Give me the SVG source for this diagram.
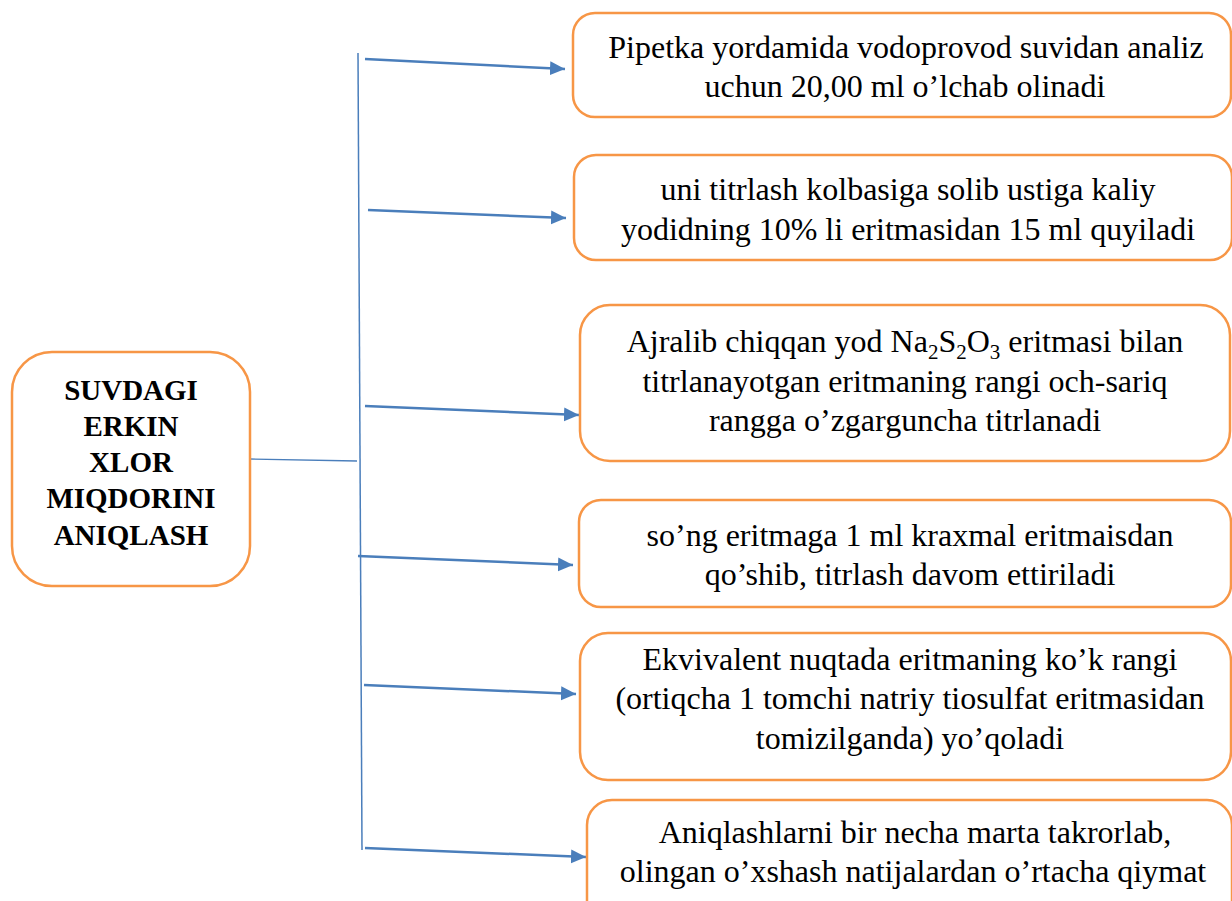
<svg xmlns="http://www.w3.org/2000/svg" width="1232" height="901" viewBox="0 0 1232 901">
<style>
.box{fill:#fff;stroke:#F79646;stroke-width:2.5}
.t{font-family:"Liberation Serif","Times New Roman",serif;font-size:32px;fill:#000;text-anchor:middle}
.b{font-family:"Liberation Serif","Times New Roman",serif;font-size:29px;font-weight:bold;fill:#000;text-anchor:middle}
.ln{stroke:#4A7EBB;fill:none}
.ar{stroke:#4A7EBB;stroke-width:2.5;fill:none;marker-end:url(#ah)}
.sub{font-size:21px}
</style>
<defs>
<marker id="ah" markerUnits="userSpaceOnUse" markerWidth="16" markerHeight="16" refX="15" refY="7" orient="auto">
<path d="M0,0 L15,7 L0,14 Z" fill="#4A7EBB"/>
</marker>
</defs>
<rect width="1232" height="901" fill="#fff"/>
<g id="connectors">
<line class="ln" x1="358" y1="53" x2="362" y2="850" stroke-width="1.5"/>
<line class="ln" x1="250" y1="459" x2="357" y2="461" stroke-width="1.3"/>
<line class="ar" x1="365" y1="59" x2="565" y2="69"/>
<line class="ar" x1="368" y1="210" x2="566" y2="218"/>
<line class="ar" x1="365" y1="406" x2="579" y2="415"/>
<line class="ar" x1="358" y1="556" x2="573" y2="565"/>
<line class="ar" x1="364" y1="685" x2="576" y2="694"/>
<line class="ar" x1="365" y1="848" x2="586" y2="857"/>
</g>
<g id="main">
<rect class="box" x="12" y="352" width="238" height="234" rx="40"/>
<text class="b"><tspan x="131" y="400">SUVDAGI</tspan><tspan x="131" y="436">ERKIN</tspan><tspan x="131" y="472">XLOR</tspan><tspan x="131" y="508">MIQDORINI</tspan><tspan x="131" y="545">ANIQLASH</tspan></text>
</g>
<g id="step1">
<rect class="box" x="573" y="13" width="658" height="104" rx="22"/>
<text class="t"><tspan x="906" y="58">Pipetka yordamida vodoprovod suvidan analiz</tspan><tspan x="905" y="97">uchun 20,00 ml o’lchab olinadi</tspan></text>
</g>
<g id="step2">
<rect class="box" x="574" y="155" width="658" height="105" rx="22"/>
<text class="t"><tspan x="908" y="200">uni titrlash kolbasiga solib ustiga kaliy</tspan><tspan x="908" y="240">yodidning 10% li eritmasidan 15 ml quyiladi</tspan></text>
</g>
<g id="step3">
<rect class="box" x="580" y="305" width="650" height="156" rx="30"/>
<text class="t"><tspan x="905" y="352">Ajralib chiqqan yod Na<tspan class="sub" dy="7">2</tspan><tspan dy="-7">S</tspan><tspan class="sub" dy="7">2</tspan><tspan dy="-7">O</tspan><tspan class="sub" dy="7">3</tspan><tspan dy="-7"> eritmasi bilan</tspan></tspan><tspan x="905" y="392">titrlanayotgan eritmaning rangi och-sariq</tspan><tspan x="905" y="431">rangga o’zgarguncha titrlanadi</tspan></text>
</g>
<g id="step4">
<rect class="box" x="579" y="500" width="652" height="107" rx="22"/>
<text class="t"><tspan x="910" y="546">so’ng eritmaga 1 ml kraxmal eritmaisdan</tspan><tspan x="910" y="585">qo’shib, titrlash davom ettiriladi</tspan></text>
</g>
<g id="step5">
<rect class="box" x="580" y="633" width="651" height="147" rx="28"/>
<text class="t"><tspan x="910" y="670">Ekvivalent nuqtada eritmaning ko’k rangi</tspan><tspan x="910" y="709">(ortiqcha 1 tomchi natriy tiosulfat eritmasidan</tspan><tspan x="910" y="749">tomizilganda) yo’qoladi</tspan></text>
</g>
<g id="step6">
<rect class="box" x="587" y="800" width="645" height="130" rx="25"/>
<text class="t"><tspan x="915" y="843">Aniqlashlarni bir necha marta takrorlab,</tspan><tspan x="913" y="882">olingan o’xshash natijalardan o’rtacha qiymat</tspan></text>
</g>
</svg>
